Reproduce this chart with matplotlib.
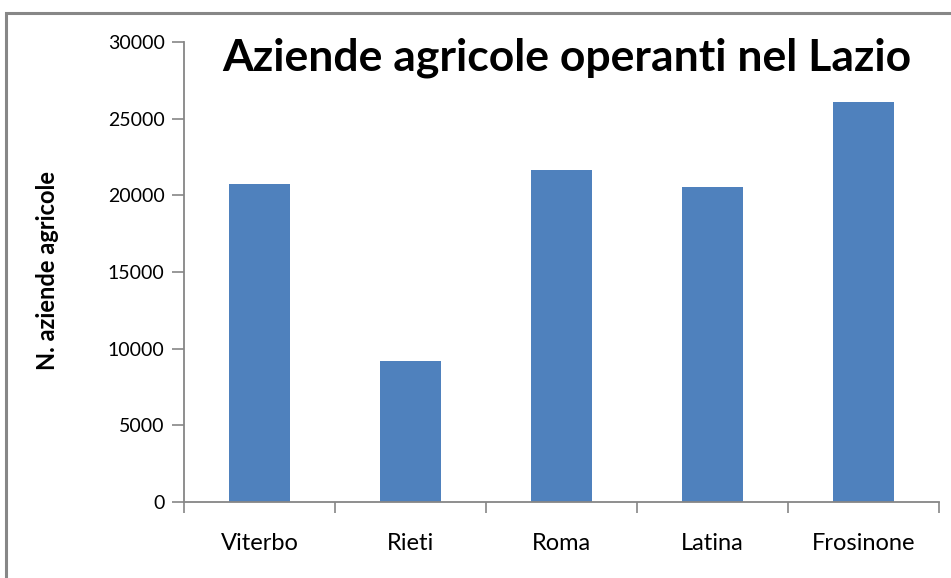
import matplotlib
matplotlib.use("Agg")
import matplotlib.pyplot as plt
from matplotlib.patches import Rectangle

# data
province = ["Viterbo", "Rieti", "Roma", "Latina", "Frosinone"]
aziende = [20740, 9200, 21650, 20550, 26090]
y_ticks = [0, 5000, 10000, 15000, 20000, 25000, 30000]

title = "Aziende agricole operanti nel Lazio"
y_label = "N. aziende agricole"

bar_color = "#4F81BD"
axis_color = "#868686"

plt.rcParams["font.family"] = ["Lato", "DejaVu Sans"]

W, H = 951, 578
fig = plt.figure(figsize=(W / 100, H / 100), dpi=100)

# outer chart border (only top and left visible in the crop)
fig.patches.append(Rectangle((6 / W, -0.05), 1.1, 1 - 12.5 / H + 0.05,
                             transform=fig.transFigure, fill=False,
                             edgecolor="#878787", linewidth=2.2))

ax = fig.add_axes([184 / W, 1 - 502 / H, (939 - 184) / W, (502 - 42) / H])

x = list(range(len(province)))
ax.bar(x, aziende, width=0.4, color=bar_color, zorder=2)

ax.set_xlim(-0.5, len(province) - 0.5)
ax.set_ylim(0, 30000)
ax.set_yticks(y_ticks)
ax.set_yticklabels([str(v) for v in y_ticks], fontsize=14)

# categories labelled in the middle, ticks on the boundaries
ax.set_xticks(x)
ax.set_xticklabels(province, fontsize=17)
ax.tick_params(axis="x", which="major", length=0, pad=22)
ax.set_xticks([i - 0.5 for i in range(len(province) + 1)], minor=True)
ax.tick_params(axis="x", which="minor", length=8, width=1.2, color=axis_color)
ax.tick_params(axis="y", length=9, width=1.2, color=axis_color, pad=5)

for side in ["top", "right"]:
    ax.spines[side].set_visible(False)
for side in ["left", "bottom"]:
    ax.spines[side].set_color(axis_color)
    ax.spines[side].set_linewidth(1.3)

fig.text(48 / W, 1 - 270 / H, y_label, rotation=90, ha="center", va="center",
         fontsize=17, fontweight="bold")
fig.text(567 / W, 1 - 58 / H, title, ha="center", va="center",
         fontsize=32, fontweight="bold")

fig.savefig("out.png", dpi=100)
